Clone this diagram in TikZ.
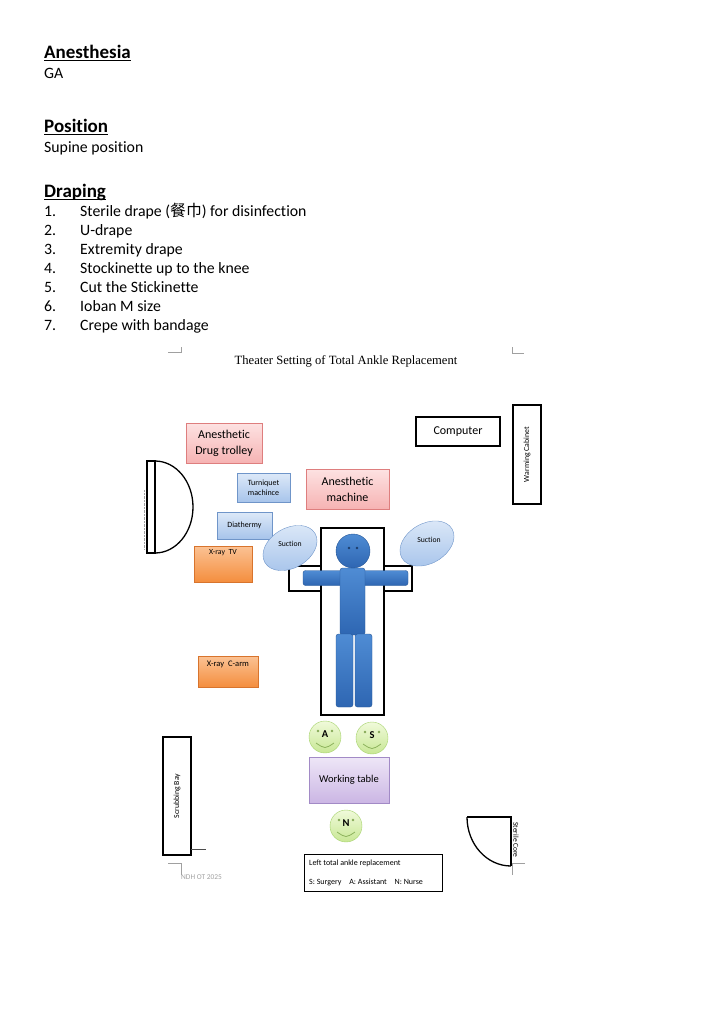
\documentclass[tikz,border=0pt]{standalone}
\usepackage{fontspec}
\setmainfont{Carlito}[Ligatures={NoCommon}]
\newfontfamily\titlefont{Liberation Serif}
\newfontfamily\cjk{Noto Sans CJK SC}
\usetikzlibrary{positioning, shapes.geometric, calc}

\definecolor{pinktop}{HTML}{FDE2E2}
\definecolor{pinkfill}{HTML}{F6B3B3}
\definecolor{pinkline}{HTML}{DE7E7E}
\definecolor{bluetop}{HTML}{DDE9F8}
\definecolor{bluefill}{HTML}{A7C4EB}
\definecolor{blueline}{HTML}{6F95C9}
\definecolor{orangetop}{HTML}{FBC294}
\definecolor{orangefill}{HTML}{F48E3E}
\definecolor{orangeline}{HTML}{D8742D}
\definecolor{purpletop}{HTML}{EEE6F7}
\definecolor{purplefill}{HTML}{CBB6E4}
\definecolor{purpleline}{HTML}{A28AC6}
\definecolor{bodytop}{HTML}{4F8CD4}
\definecolor{bodyfill}{HTML}{2E66B2}
\definecolor{greentop}{HTML}{F0FADA}
\definecolor{greenfill}{HTML}{C8E795}
\definecolor{greenline}{HTML}{A5D26C}
\definecolor{marks}{HTML}{A0A0A0}

\begin{document}
\begin{tikzpicture}[x=1pt, y=-1pt,
        txt/.style={anchor=base west, inner sep=0pt, font=\fontsize{15.8}{19}\selectfont},
        heading/.style={txt, font=\fontsize{19}{23}\selectfont\bfseries},
        uline/.style={line width=1.3pt},
        pinkbox/.style={draw=pinkline, top color=pinktop, bottom color=pinkfill, align=center,
                        inner sep=1pt, font=\fontsize{12}{16}\selectfont},
        bluebox/.style={draw=blueline, top color=bluetop, bottom color=bluefill, align=center,
                        inner sep=1pt, font=\fontsize{8}{10}\selectfont},
        orangebox/.style={draw=orangeline, top color=orangetop, bottom color=orangefill, inner sep=1pt},
        purplebox/.style={draw=purpleline, top color=purpletop, bottom color=purplefill,
                        inner sep=1pt, font=\fontsize{10.5}{12}\selectfont},
        wallbox/.style={draw, line width=1.5pt, fill=white, inner sep=1pt, font=\fontsize{7.8}{9}\selectfont},
        suction/.style={ellipse, draw=blueline, top color=bluetop, bottom color=bluefill,
                        minimum width=58pt, minimum height=40pt, inner sep=0pt, rotate=30},
        small/.style={inner sep=0pt, font=\fontsize{7.8}{9}\selectfont},
        person/.style={draw=bodyfill!85!black, line width=0.4pt, top color=bodytop, bottom color=bodyfill,
                        rounded corners=2.5pt, inner sep=0pt},
        staff/.style={circle, draw=greenline, top color=greentop, bottom color=greenfill,
                        minimum size=32pt, inner sep=0pt},
        cropmark/.style={marks, line width=0.8pt}]
    \useasboundingbox (0,0) rectangle (720,1012);

    % Notes
    \foreach \nm/\t/\y in {anes/Anesthesia/58, pos/Position/132, drape/Draping/197} {
        \node[heading] (\nm) at (44,\y) {\t};
        \draw[uline] ($(\nm.base west)+(0,2.2)$) -- ($(\nm.base east)+(0,2.2)$);
    }
    \node[txt] (ga) at (44,78) {GA};
    \node[txt] (supine) at (44,152) {Supine position};
    \foreach \t [count=\i] in {Sterile drape ({\cjk 餐巾}) for disinfection, U-drape, Extremity drape,
            Stockinette up to the knee, Cut the Stickinette, Ioban M size, Crepe with bandage} {
        \node[txt] (num\i) at (44,{197+19*\i}) {\i.};
        \node[txt] (item\i) at (80,{197+19*\i}) {\t};
    }

    % Page corners
    \draw[cropmark] (168,352) -- (181,352) -- (181,347);
    \draw[cropmark] (512,347) -- (512,353) -- (524,353);
    \draw[cropmark] (168,863) -- (181,863) -- (181,875);
    \draw[cropmark] (525,863) -- (512,863) -- (512,875);

    \node[inner sep=0pt, font=\titlefont\fontsize{12.6}{15}\selectfont] (title) at (346,361)
        {Theater Setting of Total Ankle Replacement};

    % Equipment
    \node[pinkbox, minimum width=76pt, minimum height=40pt] (trolley) at (224,443) {Anesthetic\\Drug trolley};
    \node[wallbox, minimum width=84pt, minimum height=29pt, font=\fontsize{12}{14}\selectfont] (computer) at (458,431.5) {Computer};
    \node[wallbox, rotate=90, minimum width=99pt, minimum height=28pt] (warmer) at (527,454.5) {Warming Cabinet};
    \node[bluebox, minimum width=53pt, minimum height=29pt] (tourniquet) at (263.5,487.5) {Turniquet\\machince};
    \node[pinkbox, minimum width=83pt, minimum height=40pt] (anesmachine) at (347.5,489) {Anesthetic\\machine};
    \node[bluebox, minimum width=55pt, minimum height=27pt] (diathermy) at (244.5,525.5) {Diathermy};
    \node[orangebox, minimum width=58pt, minimum height=36pt] (xraytv) at (223,564) {};
    \node[small] (tvlabel) at (223,553) {X-ray\ \ TV};
    \node[orangebox, minimum width=60pt, minimum height=31pt] (carm) at (228,671.5) {};
    \node[small, font=\fontsize{8.5}{10}\selectfont] (carmlabel) at (228,664) {X-ray\ \ C-arm};

    % Door
    \draw[densely dotted, marks] (144,490) -- (144,550);
    \draw[line width=1.3pt, fill=white] (147,461) rectangle (155,553);
    \draw[line width=1.3pt] (155,461) arc[start angle=-90, end angle=90, x radius=38, y radius=46];

    % Operating table
    \node[wallbox, minimum width=123pt, minimum height=25pt] (armboard) at (350.5,578.5) {};
    \node[wallbox, minimum width=63pt, minimum height=187pt] (bed) at (352.5,621.5) {};
    \node[person, minimum width=105pt, minimum height=15pt] (arms) at (355.5,578) {};
    \node[person, minimum width=25pt, minimum height=67pt] (torso) at (352.5,601.5) {};
    \node[person, minimum width=17pt, minimum height=73pt] (legL) at (344.5,670.5) {};
    \node[person, minimum width=17pt, minimum height=73pt] (legR) at (363.5,670.5) {};
    \node[person, circle, minimum size=34pt] (head) at (353,551) {};
    \fill[bodyfill!60!black] ($(head)+(-4,-3)$) circle (1.3) ($(head)+(4,-3)$) circle (1.3);

    \node[suction] (suctionL) at (290,548) {};
    \node[small, font=\fontsize{7.7}{9}\selectfont] (suctionLtxt) at (290,544) {Suction};
    \node[suction] (suctionR) at (427,543.5) {};
    \node[small, font=\fontsize{7.7}{9}\selectfont] (suctionRtxt) at (429,540) {Suction};

    % Team
    \foreach \nm/\x/\y in {A/325/737, S/372/738, N/346/826} {
        \node[staff] (\nm) at (\x,\y) {};
        \node[inner sep=0pt, font=\fontsize{10.5}{12}\selectfont\bfseries] (\nm txt) at (\x,{\y-3}) {\nm};
        \fill[greenline!80!black] ($(\nm)+(-7,-6)$) circle (1.3) ($(\nm)+(7,-6)$) circle (1.3);
        \draw[greenline!85!black, line width=0.8pt] ($(\nm)+(-9,6)$) .. controls ($(\nm)+(0,12)$) .. ($(\nm)+(9,6)$);
    }
    \node[purplebox, minimum width=80pt, minimum height=46pt] (worktable) at (349,780) {Working table};

    % Scrubbing bay and sterile core
    \node[wallbox, rotate=90, minimum width=118pt, minimum height=28pt] (scrub) at (177,796) {Scrubbing Bay};
    \draw[black!70, line width=0.8pt] (191,849) -- (206,849);
    \draw[line width=1.3pt] (467,817) -- (511,817) -- (511,866);
    \draw[line width=1.3pt] (467,817) arc[start angle=180, end angle=90, x radius=44, y radius=49];
    \node[rotate=-90, inner sep=0pt, font=\fontsize{7.5}{9}\selectfont] (core) at (516,840) {Sterile Core};

    % Legend
    \node[draw, line width=0.8pt, minimum width=138pt, minimum height=37pt, inner sep=0pt] (legend) at (373,872.5) {};
    \node[anchor=base west, inner sep=0pt, font=\fontsize{8}{10}\selectfont] (legend1) at (309,865.5) {Left total ankle replacement};
    \node[anchor=base west, inner sep=0pt, font=\fontsize{8}{10}\selectfont] (legend2) at (309,884)
        {S: Surgery\hspace{6pt} A: Assistant\hspace{6pt} N: Nurse};
    \node[anchor=west, inner sep=0pt, text=marks, font=\fontsize{7.4}{9}\selectfont] (ndh) at (181,877) {NDH OT 2025};
\end{tikzpicture}
\end{document}
